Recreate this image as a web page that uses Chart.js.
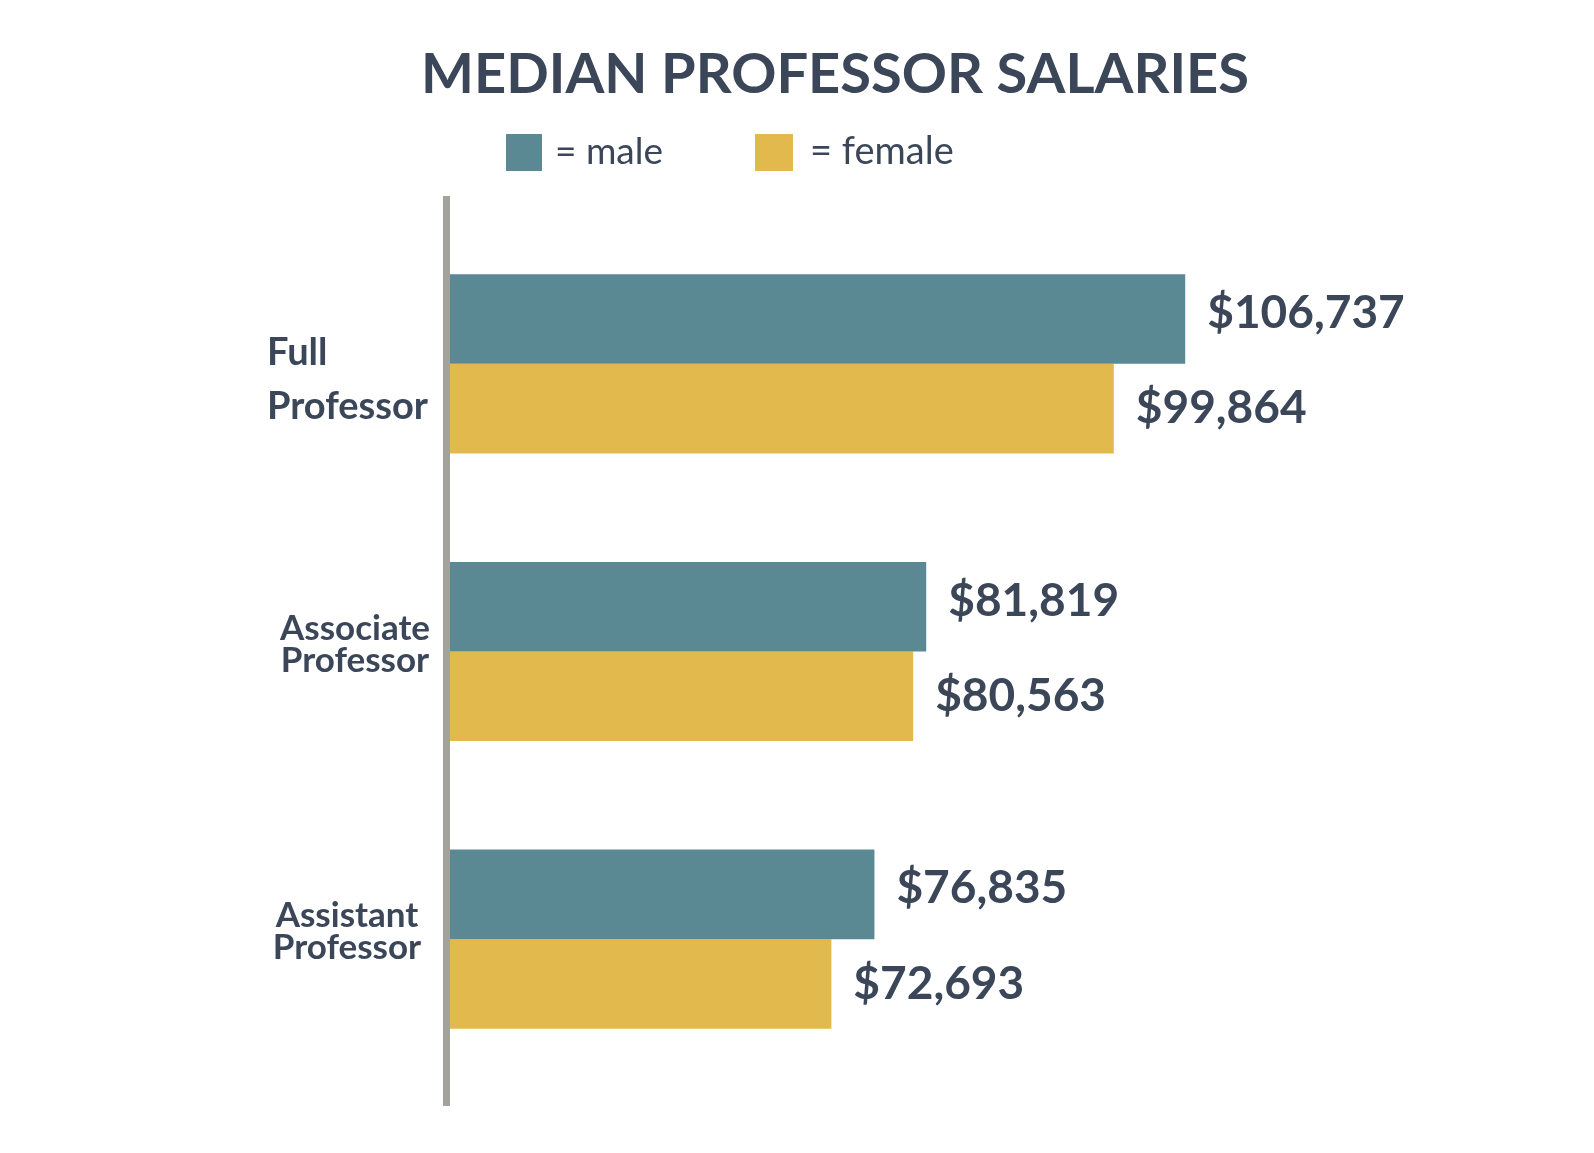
<!DOCTYPE html>
<html>
<head>
<meta charset="utf-8">
<script src="https://cdn.jsdelivr.net/npm/chart.js@4/dist/chart.umd.min.js"></script>
<style>
  html, body { margin: 0; padding: 0; background: #ffffff; }
  #wrap { width: 1594px; height: 1153px; position: relative; }
</style>
</head>
<body>
<div id="wrap"><canvas id="c" width="1594" height="1153"></canvas></div>
<script>
// ---- data ----
const categories = [["Full", "Professor"], ["Associate", "Professor"], ["Assistant", "Professor"]];
const seriesNames = ["male", "female"];
const maleValues = [106737, 81819, 76835];
const femaleValues = [99864, 80563, 72693];
const titleText = "MEDIAN PROFESSOR SALARIES";

// ---- styles ----
const TEXT = "#3b4759";
const TEAL = "#5a8893";
const GOLD = "#e2b94d";
const AXIS = "#a3a29d";
const FONT = "Lato, 'Open Sans', sans-serif";
// per-category label styling: font size, line gap, vertical shift, alignment
const catLabelStyle = [
  { size: 38, gap: 54, shift: 16, align: "left", x: 267 },
  { size: 35, gap: 32, shift: -7, align: "center", x: 355 },
  { size: 35, gap: 32, shift: -7, align: "center", x: 347 }
];
const valueLabelGap = 22;
const valueLabelShift = [-6, 0];

const decor = {
  id: "decor",
  beforeDatasetsDraw(chart) {
    const ctx = chart.ctx;
    const area = chart.chartArea;
    ctx.save();
    ctx.fillStyle = AXIS;
    ctx.fillRect(area.left - 7, 196, 7, 1106 - 196);
    ctx.restore();
  },
  afterDatasetsDraw(chart) {
    const ctx = chart.ctx;
    const yScale = chart.scales.y;
    ctx.save();
    // title
    ctx.fillStyle = TEXT;
    ctx.font = "bold 56px " + FONT;
    ctx.textAlign = "center";
    ctx.textBaseline = "alphabetic";
    ctx.fillText(titleText, 835, 93);

    // legend
    const legendItems = [
      { color: TEAL, x: 506, w: 36, tx: 555, size: 37 },
      { color: GOLD, x: 755, w: 38, tx: 810, size: 38 }
    ];
    ctx.textAlign = "left";
    legendItems.forEach((li, i) => {
      ctx.fillStyle = li.color;
      ctx.fillRect(li.x, 134, li.w, 37);
      ctx.fillStyle = TEXT;
      ctx.font = li.size + "px " + FONT;
      ctx.fillText("= " + seriesNames[i], li.tx, 164);
    });

    // category labels
    categories.forEach((lines, i) => {
      const st = catLabelStyle[i];
      const cy = yScale.getPixelForValue(i) + st.shift;
      ctx.font = "bold " + st.size + "px " + FONT;
      ctx.textAlign = st.align;
      ctx.textBaseline = "middle";
      ctx.fillStyle = TEXT;
      const n = lines.length;
      lines.forEach((t, j) => {
        ctx.fillText(t, st.x, cy + (j - (n - 1) / 2) * st.gap);
      });
    });

    // value labels
    ctx.font = "bold 46px " + FONT;
    ctx.textAlign = "left";
    ctx.textBaseline = "middle";
    ctx.fillStyle = TEXT;
    chart.data.datasets.forEach((ds, di) => {
      const meta = chart.getDatasetMeta(di);
      meta.data.forEach((bar, bi) => {
        const v = ds.data[bi];
        ctx.fillText("$" + v.toLocaleString("en-US"), bar.x + valueLabelGap, bar.y + valueLabelShift[di]);
      });
    });
    ctx.restore();
  }
};

new Chart(document.getElementById("c"), {
  type: "bar",
  data: {
    labels: categories,
    datasets: [
      { label: seriesNames[0], data: maleValues, backgroundColor: TEAL },
      { label: seriesNames[1], data: femaleValues, backgroundColor: GOLD }
    ]
  },
  options: {
    indexAxis: "y",
    responsive: false,
    animation: false,
    devicePixelRatio: 1,
    layout: { padding: { left: 450, right: 167, top: 220, bottom: 70 } },
    categoryPercentage: 0.623,
    barPercentage: 1.0,
    scales: {
      x: { display: false, min: 36000, max: 130000, grid: { display: false } },
      y: { display: false, grid: { display: false } }
    },
    plugins: {
      legend: { display: false },
      title: { display: false },
      tooltip: { enabled: false }
    }
  },
  plugins: [decor]
});
</script>
</body>
</html>
